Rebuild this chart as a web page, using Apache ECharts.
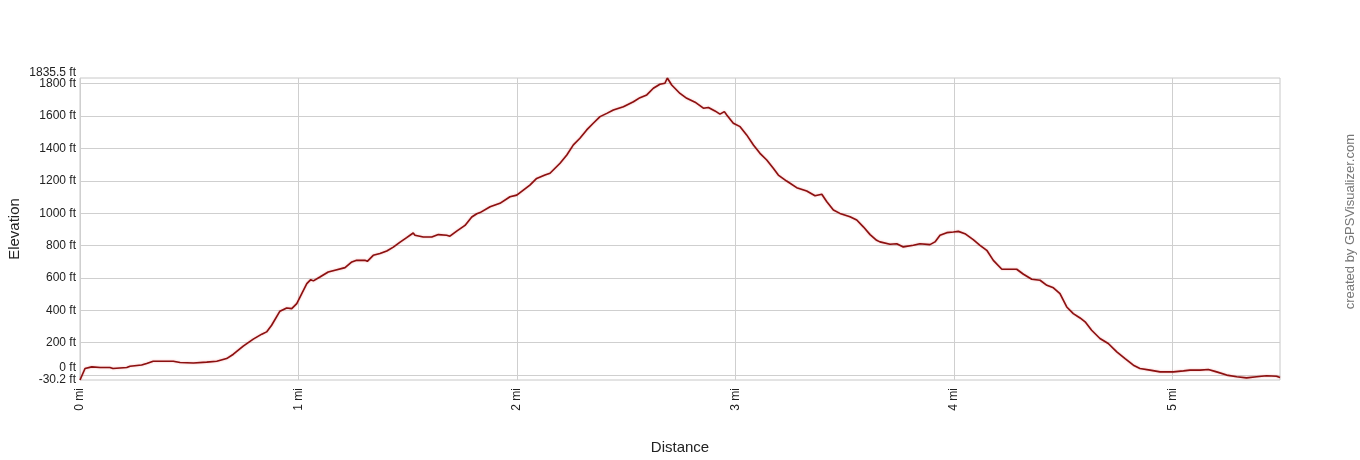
<!DOCTYPE html>
<html>
<head>
<meta charset="utf-8">
<script src="https://cdn.jsdelivr.net/npm/echarts@6/dist/echarts.min.js"></script>
<style>
  html, body { margin: 0; padding: 0; background: #fff; }
  #main { width: 1360px; height: 460px; }
</style>
</head>
<body>
<div id="main"></div>
<script>
// distance along the track (mi)
var distance = [
  0, 0.023, 0.054, 0.092, 0.137, 0.151, 0.214, 0.229, 0.282, 0.305, 0.335, 0.366, 0.427, 0.458,
  0.519, 0.580, 0.626, 0.671, 0.702, 0.747, 0.793, 0.832, 0.854, 0.877, 0.915, 0.946, 0.969,
  0.992, 1.015, 1.038, 1.056, 1.068, 1.098, 1.136, 1.167, 1.213, 1.244, 1.266, 1.304, 1.315,
  1.342, 1.373, 1.404, 1.434, 1.465, 1.495, 1.525, 1.533, 1.571, 1.610, 1.640, 1.678, 1.693,
  1.724, 1.762, 1.793, 1.816, 1.831,
  1.877, 1.922, 1.968, 1.999, 2.029, 2.059, 2.090, 2.128, 2.151, 2.197, 2.228, 2.258, 2.288,
  2.319, 2.349, 2.380, 2.411, 2.441, 2.487, 2.533, 2.563, 2.594, 2.624, 2.654, 2.677, 2.688,
  2.708, 2.746,
  2.777, 2.815, 2.853, 2.876, 2.906, 2.929, 2.949, 2.960, 2.990, 3.021, 3.051, 3.082, 3.112,
  3.143, 3.173, 3.196, 3.234, 3.280, 3.326, 3.364, 3.395, 3.418, 3.448, 3.478, 3.524, 3.555,
  3.585, 3.616, 3.646, 3.661,
  3.707, 3.738, 3.768, 3.814, 3.844, 3.890, 3.913, 3.936, 3.967, 3.997, 4.020, 4.050, 4.088,
  4.119, 4.150, 4.180, 4.219, 4.249, 4.287, 4.318, 4.356, 4.394, 4.425, 4.455, 4.485, 4.516,
  4.546, 4.577,
  4.600, 4.630, 4.668, 4.706, 4.745, 4.783, 4.821, 4.851, 4.897, 4.943, 5.004, 5.050, 5.080,
  5.126, 5.164, 5.202, 5.248, 5.294, 5.339, 5.385, 5.431, 5.476, 5.492
];
// elevation (ft)
var elevation = [
  -30.2, 41, 51, 47, 47, 41, 47, 55, 62, 72, 86, 86, 86, 78,
  75, 80, 86, 102, 129, 179, 222, 253, 267, 308, 395, 415, 411,
  442, 504, 565, 590, 582, 606, 637, 648, 664, 699, 709, 709, 703,
  740, 751, 767, 791, 822, 849, 878, 864, 853, 853, 868, 864, 858,
  890, 925, 977, 997, 1004,
  1040, 1061, 1102, 1112, 1143, 1174, 1215, 1236, 1247, 1309, 1360, 1422, 1463,
  1515, 1556, 1597, 1617, 1638, 1658, 1689, 1714, 1731, 1772, 1797, 1803, 1835.5,
  1792, 1740,
  1710, 1686, 1649, 1653, 1632, 1612, 1628, 1607, 1556, 1535, 1484, 1422, 1370,
  1329, 1278, 1236, 1199, 1158, 1137, 1108, 1117, 1071, 1020, 999, 978, 958,
  916, 868, 833, 823,
  808, 812, 792, 802, 812, 806, 823, 864, 880, 884, 888, 874, 837,
  802, 771, 709, 654, 654, 654, 623, 592, 586, 555, 539, 504, 421,
  380, 353,
  329, 277, 226, 195, 144, 102, 61, 41, 31, 20, 20, 26, 31,
  31, 35, 20, 0, -10, -17, -10, -4, -7, -15
];
var yMin = -30.2;
var yMax = 1835.5;
var yTicks = [0, 200, 400, 600, 800, 1000, 1200, 1400, 1600, 1800];
var yEnds = [yMin, yMax];
var xTicks = [0, 1, 2, 3, 4, 5];

var chart = echarts.init(document.getElementById("main"));
var points = distance.map(function (d, i) { return [d, elevation[i]]; });

var option = {
  animation: false,
  textStyle: { fontFamily: "Liberation Sans, Arial, sans-serif" },
  grid: {
    left: 80, right: 80, top: 78, bottom: 80,
    outerBoundsMode: "none",
    containLabel: false,
    show: true, borderColor: "#c8c8c8", borderWidth: 1
  },
  xAxis: {
    type: "value",
    min: 0,
    max: 5.492,
    name: "Distance",
    nameLocation: "middle",
    nameGap: 60,
    nameTextStyle: { fontSize: 15, color: "#222" },
    axisLine: { show: false },
    axisTick: { show: false, customValues: xTicks },
    axisLabel: {
      customValues: xTicks,
      rotate: 90,
      margin: 8,
      fontSize: 12,
      color: "#222",
      formatter: function (v) { return v + " mi"; }
    },
    splitLine: { lineStyle: { color: "#cfcfcf", width: 1 } }
  },
  yAxis: [{
    type: "value",
    min: yMin,
    max: yMax,
    name: "Elevation",
    nameLocation: "middle",
    nameGap: 58,
    nameRotate: 90,
    nameTextStyle: { fontSize: 15, color: "#222" },
    axisLine: { show: false },
    axisTick: { show: false, customValues: yTicks },
    axisLabel: {
      customValues: yTicks,
      margin: 4,
      fontSize: 12,
      color: "#222",
      formatter: function (v) {
        if (v === 0) return "{up0|0 ft}";
        return v + " ft";
      },
      rich: {
        up0: { fontSize: 12, color: "#222", padding: [0, 0, 14, 0] }
      }
    },
    splitLine: { lineStyle: { color: "#cfcfcf", width: 1 } }
  }, {
    // second axis on the same side only for the min / max labels
    type: "value",
    position: "left",
    offset: 0,
    min: yMin,
    max: yMax,
    axisLine: { show: false },
    axisTick: { show: false, customValues: yEnds },
    splitLine: { show: false },
    axisLabel: {
      customValues: yEnds,
      margin: 4,
      fontSize: 12,
      color: "#222",
      formatter: function (v) {
        if (v === yMax) return "{up|1835.5 ft}";
        return v + " ft";
      },
      rich: {
        up: { fontSize: 12, color: "#222", padding: [0, 0, 10, 0] }
      }
    }
  }],
  graphic: [{
    type: "text",
    left: 1344,
    top: 134,
    rotation: Math.PI / 2,
    style: {
      text: "created by GPSVisualizer.com",
      fill: "#777",
      fontSize: 13,
      fontFamily: "Liberation Sans, Arial, sans-serif"
    }
  }],
  series: [{
    type: "line",
    yAxisIndex: 0,
    data: points,
    showSymbol: false,
    lineStyle: {
      color: "#8b1010",
      width: 1.6,
      shadowColor: "rgba(220,0,0,0.35)",
      shadowBlur: 2
    }
  }]
};
chart.setOption(option);
</script>
</body>
</html>
